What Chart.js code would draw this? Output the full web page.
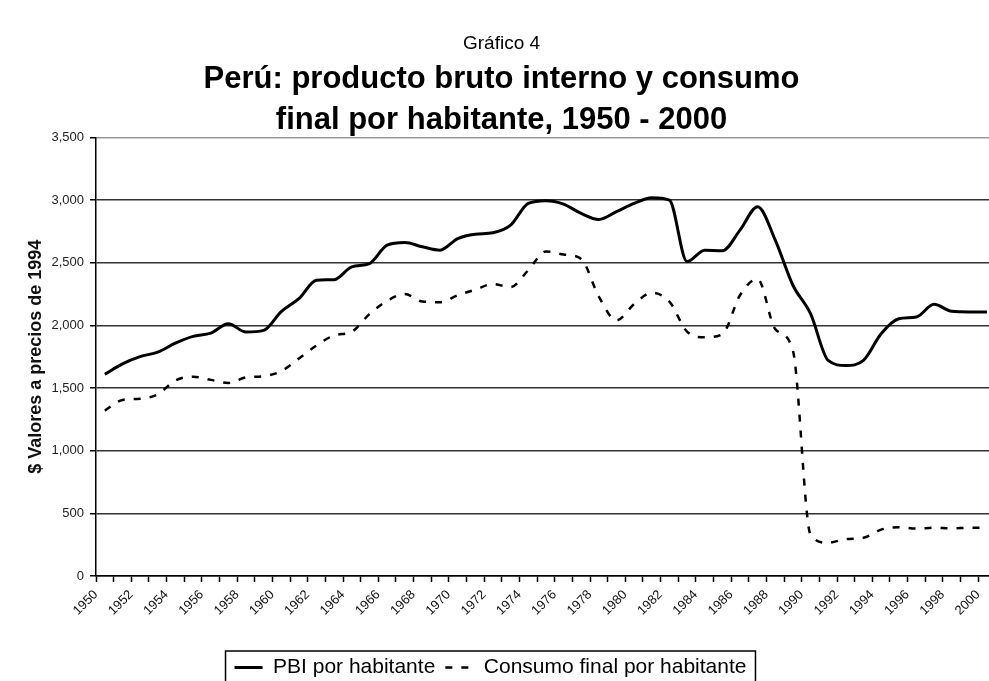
<!DOCTYPE html>
<html>
<head>
<meta charset="utf-8">
<script src="https://cdn.jsdelivr.net/npm/chart.js@4/dist/chart.umd.min.js"></script>
<style>
html, body { margin: 0; padding: 0; background: #fff; overflow: hidden; width: 989px; height: 681px; }
#wrap { position: absolute; left: 0; top: 0; width: 1003px; height: 681px; }
</style>
</head>
<body>
<div id="wrap"><canvas id="c" width="1003" height="681"></canvas></div>
<script>
const years = ['1950','1951','1952','1953','1954','1955','1956','1957','1958','1959',
  '1960','1961','1962','1963','1964','1965','1966','1967','1968','1969',
  '1970','1971','1972','1973','1974','1975','1976','1977','1978','1979',
  '1980','1981','1982','1983','1984','1985','1986','1987','1988','1989',
  '1990','1991','1992','1993','1994','1995','1996','1997','1998','1999','2000'];

const pbiPorHabitante = [1610,1693,1750,1787,1858,1912,1938,2013,1947,1960,
  2110,2213,2360,2365,2467,2493,2640,2661,2627,2600,
  2693,2728,2739,2800,2973,2995,2968,2893,2845,2907,
  2973,3019,3000,2510,2600,2595,2760,2947,2680,2320,
  2093,1720,1680,1720,1933,2053,2067,2168,2112,2107,2107];

const consumoFinal = [1320,1405,1415,1450,1560,1590,1565,1540,1585,1595,
  1635,1735,1840,1920,1950,2090,2195,2250,2190,2185,
  2240,2285,2330,2305,2440,2590,2565,2530,2230,2040,
  2170,2260,2190,1950,1905,1930,2240,2370,1970,1800,
  330,265,295,305,370,390,378,385,380,385,385];

const seriesNames = ['PBI por habitante', 'Consumo final por habitante'];
const titleLines = ['Perú: producto bruto interno y consumo', 'final por habitante, 1950 - 2000'];
const chartNumber = 'Gráfico 4';
const yAxisTitle = '$ Valores a precios de 1994';

const FONT = "'Liberation Sans', Arial, sans-serif";

const legendShift = {
  id: 'legendShift',
  afterLayout(chart) {
    const lg = chart.legend;
    if (lg) { lg.left -= 11; lg.right -= 11; }
  },
  afterDraw(chart) {
    const lg = chart.legend;
    if (!lg || !lg.lineWidths) return;
    const pad = lg.options.labels.padding;
    const start = (lg.left + pad + lg.right - lg.lineWidths[0]) / 2;
    const end = start + lg.lineWidths[0] - pad;
    const ctx = chart.ctx;
    ctx.save();
    ctx.strokeStyle = '#000';
    ctx.lineWidth = 1.5;
    ctx.strokeRect(start - 9, lg.top + 4, end - start + 18, 200);
    ctx.restore();
  }
};

new Chart(document.getElementById('c'), {
  type: 'line',
  data: {
    labels: years,
    datasets: [
      {
        label: seriesNames[0],
        data: pbiPorHabitante,
        borderColor: '#000',
        backgroundColor: '#000',
        borderWidth: 3,
        pointRadius: 0,
        cubicInterpolationMode: 'monotone',
        fill: false
      },
      {
        label: seriesNames[1],
        data: consumoFinal,
        borderColor: '#000',
        backgroundColor: '#000',
        borderWidth: 2.5,
        borderDash: [7, 9],
        pointRadius: 0,
        cubicInterpolationMode: 'monotone',
        fill: false
      }
    ]
  },
  options: {
    responsive: false,
    animation: false,
    layout: { padding: { left: 0, right: 0, top: 0, bottom: -7 } },
    plugins: {
      tooltip: { enabled: false },
      title: {
        display: true,
        text: chartNumber,
        color: '#000',
        font: { family: FONT, size: 19, weight: 'normal', lineHeight: 1.2 },
        padding: { top: 32, bottom: 0 }
      },
      subtitle: {
        display: true,
        text: titleLines,
        color: '#000',
        font: { family: FONT, size: 31, weight: 'bold', lineHeight: 1.3 },
        padding: { top: 5, bottom: -3 }
      },
      legend: {
        display: true,
        position: 'bottom',
        labels: {
          color: '#000',
          font: { family: FONT, size: 21 },
          usePointStyle: true,
          pointStyle: 'line',
          pointStyleWidth: 28,
          padding: 10,
          generateLabels(chart) {
            const items = Chart.defaults.plugins.legend.labels.generateLabels(chart);
            items.forEach((it) => {
              const ds = chart.data.datasets[it.datasetIndex];
              it.lineDash = ds.borderDash || [];
              it.lineWidth = ds.borderWidth;
              it.strokeStyle = ds.borderColor;
            });
            return items;
          }
        }
      }
    },
    scales: {
      x: {
        offset: true,
        afterFit(scale) { scale.height = 71; },
        grid: {
          offset: true,
          drawOnChartArea: false,
          drawTicks: true,
          tickLength: 6,
          tickColor: '#000',
          tickWidth: 1.5
        },
        border: { display: true, color: '#000', width: 1.5 },
        ticks: {
          autoSkip: false,
          minRotation: 45,
          maxRotation: 45,
          color: '#111',
          labelOffset: -9,
          padding: 5,
          font: { family: FONT, size: 13 },
          callback(value, index) { return index % 2 === 0 ? years[index] : ''; }
        }
      },
      y: {
        min: 0,
        max: 3500,
        afterFit(scale) { scale.width = 96; },
        grid: {
          drawTicks: true,
          tickLength: 6,
          tickColor: '#000',
          tickWidth: 1.5,
          lineWidth: 1.5,
          color(ctx) { return ctx.tick && ctx.tick.value === 3500 ? '#999' : '#333'; }
        },
        border: { display: true, color: '#000', width: 1.5 },
        ticks: {
          stepSize: 500,
          color: '#222',
          padding: 6,
          font: { family: FONT, size: 13 },
          callback(value) { return value.toLocaleString('en-US'); }
        },
        title: {
          display: true,
          text: yAxisTitle,
          color: '#111',
          font: { family: FONT, size: 18, weight: 'bold', lineHeight: 1.2 },
          padding: { top: 25, bottom: 0 }
        }
      }
    }
  },
  plugins: [legendShift]
});
</script>
</body>
</html>
